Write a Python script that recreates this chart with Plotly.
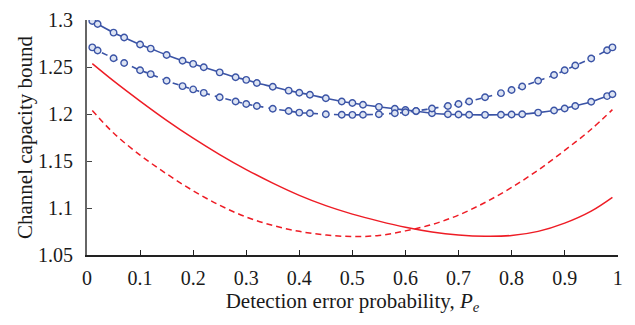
import plotly.graph_objects as go

# Error-probability grid used for the two blue bounds (one marker per sample)
pe_blue = [0.01, 0.02, 0.05, 0.07, 0.10, 0.12, 0.15, 0.18, 0.20, 0.22, 0.25, 0.28,
           0.30, 0.32, 0.35, 0.38, 0.40, 0.42, 0.45, 0.48, 0.50, 0.52, 0.55, 0.58,
           0.60, 0.62, 0.65, 0.68, 0.70, 0.72, 0.75, 0.78, 0.80, 0.82, 0.85, 0.88,
           0.90, 0.92, 0.95, 0.98, 0.99]

blue_solid = [1.2995, 1.2962, 1.2870, 1.2819, 1.2744, 1.2700, 1.2632, 1.2571, 1.2537,
              1.2502, 1.2447, 1.2395, 1.2367, 1.2333, 1.2293, 1.2252, 1.2229, 1.2208,
              1.2171, 1.2137, 1.2120, 1.2102, 1.2079, 1.2059, 1.2045, 1.2033, 1.2011,
              1.2001, 1.1997, 1.1995, 1.1994, 1.1995, 1.1997, 1.2001, 1.2018, 1.2041,
              1.2062, 1.2089, 1.2133, 1.2194, 1.2214]

blue_dashed = [1.2713, 1.2680, 1.2598, 1.2547, 1.2469, 1.2428, 1.2357, 1.2300, 1.2265,
               1.2228, 1.2181, 1.2137, 1.2109, 1.2089, 1.2059, 1.2035, 1.2018, 1.2011,
               1.2001, 1.1995, 1.1994, 1.1995, 1.2001, 1.2011, 1.2021, 1.2035, 1.2062,
               1.2089, 1.2109, 1.2137, 1.2181, 1.2225, 1.2259, 1.2296, 1.2357, 1.2418,
               1.2469, 1.2520, 1.2595, 1.2683, 1.2713]

# Grid for the two red bounds
pe_red = [0.01, 0.05, 0.10, 0.15, 0.20, 0.25, 0.30, 0.35, 0.40, 0.45, 0.50,
          0.55, 0.60, 0.65, 0.70, 0.75, 0.80, 0.85, 0.90, 0.95, 0.99]

red_solid = [1.2540, 1.2356, 1.2141, 1.1936, 1.1746, 1.1571, 1.1411, 1.1266, 1.1136,
             1.1026, 1.0936, 1.0861, 1.0796, 1.0746, 1.0714, 1.0700, 1.0708, 1.0752,
             1.0840, 1.0968, 1.1115]

red_dashed = [1.2040, 1.1800, 1.1565, 1.1365, 1.1185, 1.1030, 1.0905, 1.0815, 1.0752,
              1.0713, 1.0697, 1.0708, 1.0757, 1.0825, 1.0925, 1.1060, 1.1220, 1.1405,
              1.1615, 1.1840, 1.2050]

x_ticks = [0, 0.1, 0.2, 0.3, 0.4, 0.5, 0.6, 0.7, 0.8, 0.9, 1]
x_ticktext = ["0", "0.1", "0.2", "0.3", "0.4", "0.5", "0.6", "0.7", "0.8", "0.9", "1"]
y_ticks = [1.05, 1.1, 1.15, 1.2, 1.25, 1.3]
y_ticktext = ["1.05", "1.1", "1.15", "1.2", "1.25", "1.3"]

BLUE = "#3b54a6"
RED = "#ee1c25"
FONT = "Liberation Serif"

marker_style = dict(symbol="circle", size=6.5, color="#dde4f3",
                    line=dict(color=BLUE, width=1.4))

fig = go.Figure()
fig.add_trace(go.Scatter(x=pe_red, y=red_solid, mode="lines",
                         line=dict(color=RED, width=1.5, shape="spline")))
fig.add_trace(go.Scatter(x=pe_red, y=red_dashed, mode="lines",
                         line=dict(color=RED, width=1.5, shape="spline", dash="6px,4px")))
fig.add_trace(go.Scatter(x=pe_blue, y=blue_solid, mode="lines+markers",
                         line=dict(color=BLUE, width=1.6, shape="spline"),
                         marker=marker_style))
fig.add_trace(go.Scatter(x=pe_blue, y=blue_dashed, mode="lines+markers",
                         line=dict(color=BLUE, width=1.6, shape="spline", dash="6px,5px"),
                         marker=marker_style))

fig.update_layout(
    width=635, height=325,
    margin=dict(l=87, r=17, t=9, b=70),
    paper_bgcolor="white", plot_bgcolor="white",
    showlegend=False,
    font=dict(family=FONT, size=20, color="#1a1a1a"),
    xaxis=dict(
        range=[0, 1.0005], tickvals=x_ticks, ticktext=x_ticktext,
        showgrid=False, zeroline=False,
        showline=True, linecolor="#222222", linewidth=1.5,
        ticks="inside", ticklen=5, tickwidth=1.3, tickcolor="#222222",
        ticklabelstandoff=4, ticklabeloverflow="allow",
        title=dict(text="Detection error probability, <i>P</i><sub><i>e</i></sub>",
                   font=dict(family=FONT, size=21), standoff=5),
    ),
    yaxis=dict(
        range=[1.05, 1.3005], tickvals=y_ticks, ticktext=y_ticktext,
        showgrid=False, zeroline=False,
        showline=True, linecolor="#666666", linewidth=2,
        ticks="inside", ticklen=5, tickwidth=1.3, tickcolor="#444444",
        ticklabelstandoff=8, ticklabeloverflow="allow",
        title=dict(text="Channel capacity bound",
                   font=dict(family=FONT, size=21), standoff=0),
    ),
)

fig.write_html("out.html")
